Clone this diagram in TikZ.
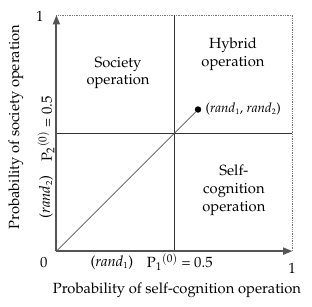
\documentclass[tikz,border=0pt]{standalone}
\usepackage[T1]{fontenc}
\usepackage{mathpazo}
\usetikzlibrary{arrows.meta,positioning}
\definecolor{axisgray}{RGB}{85,85,85}
\definecolor{guidegray}{RGB}{120,120,120}
\newcommand{\labelsize}{\fontsize{12.6}{15}\selectfont}
\newcommand{\randsub}[1]{\textit{rand}$_{\scriptscriptstyle #1}$}

\begin{document}
\begin{tikzpicture}[x=7.08cm,y=7.08cm,
    axis/.style={draw=axisgray, line width=1.6pt, -{Triangle[length=8pt,width=6pt]}},
    divider/.style={draw=black!80, line width=0.6pt},
    border/.style={draw=guidegray, densely dotted, line width=0.5pt},
    region/.style={font=\labelsize, align=center},
    ticklabel/.style={font=\labelsize},
    axislabel/.style={font=\labelsize}]
    \useasboundingbox (-0.239,-0.233) rectangle (1.083,1.064);
    % Unit square
    \coordinate (o) at (0,0);
    \coordinate (xend) at (1,0);
    \coordinate (yend) at (0,1);
    \coordinate (corner) at (1,1);
    \coordinate (xmid) at (0.5,0);
    \coordinate (ymid) at (0,0.5);
    \coordinate (xmidtop) at (0.5,1);
    \coordinate (ymidright) at (1,0.5);
    % Dotted border
    \draw[border] (yend) -- (corner) -- (xend);
    % Thresholds
    \draw[divider] (xmid) -- (xmidtop);
    \draw[divider] (ymid) -- (ymidright);
    % Axes
    \draw[axis] (o) -- (xend);
    \draw[axis] (o) -- (yend);
    % Random draw
    \node[circle, fill=black, inner sep=0pt, minimum size=5.5pt] (pt) at (0.6,0.6) {};
    \draw[axisgray, line width=0.6pt] (o) -- (pt);
    \node[right=0pt of pt, font=\fontsize{11.4}{14}\selectfont] (ptlabel) {(\randsub{1}, \randsub{2})};
    % Regions
    \node[region] (society) at (0.261,0.754) {Society\\operation};
    \node[region] (hybrid) at (0.748,0.835) {Hybrid\\operation};
    \node[region] (self) at (0.752,0.258) {Self-\\cognition\\operation};
    % Ticks
    \node[ticklabel] (zero) at (-0.053,-0.047) {0};
    \node[ticklabel] (xone) at (0.998,-0.072) {1};
    \node[ticklabel] (yone) at (-0.07,0.996) {1};
    \node[ticklabel] (randx) at (0.235,-0.047) {(\randsub{1})};
    \node[ticklabel] (pone) at (0.523,-0.047) {P$_1{}^{(0)}$ = 0.5};
    \node[ticklabel, rotate=90] (randy) at (-0.044,0.229) {(\randsub{2})};
    \node[ticklabel, rotate=90] (ptwo) at (-0.044,0.517) {P$_2{}^{(0)}$ = 0.5};
    % Axis titles
    \node[axislabel] (xtitle) at (0.511,-0.165) {Probability of self-cognition operation};
    \node[axislabel, rotate=90] (ytitle) at (-0.172,0.525) {Probability of society operation};
\end{tikzpicture}
\end{document}
